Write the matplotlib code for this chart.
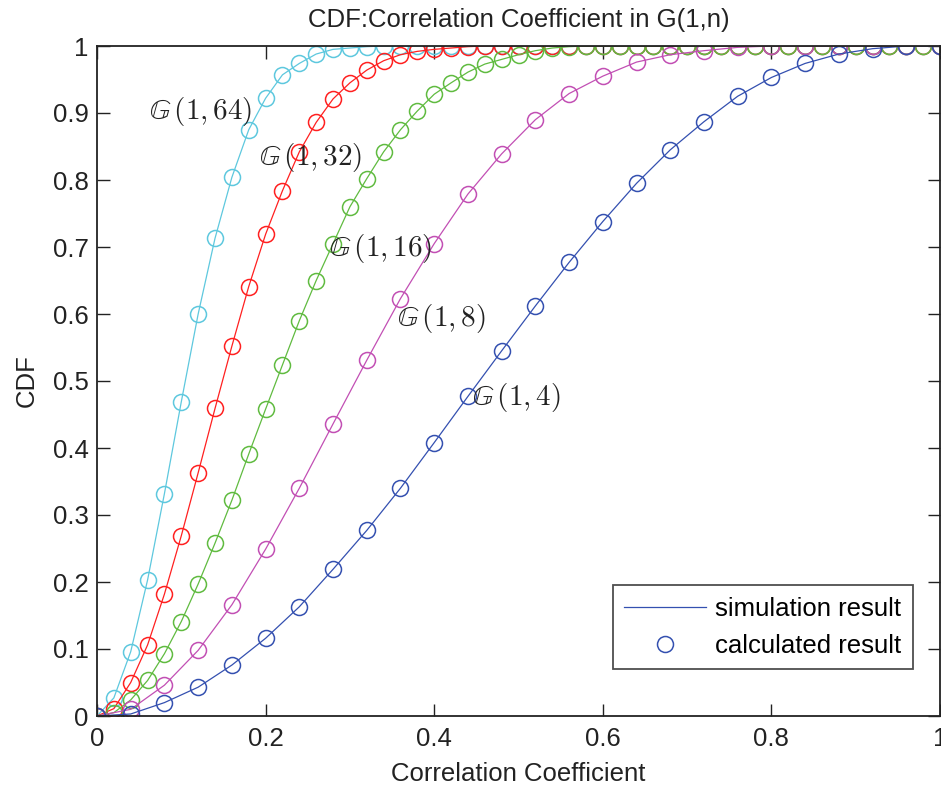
import numpy as np
import matplotlib
matplotlib.use('Agg')
import matplotlib.pyplot as plt

plt.rcParams['font.family'] = ['Liberation Sans', 'DejaVu Sans']
plt.rcParams['mathtext.fontset'] = 'cm'

# x positions of the calculated points
x_fine = np.round(np.arange(0, 1.0001, 0.02), 2)    # n = 64, 32, 16
x_coarse = np.round(np.arange(0, 1.0001, 0.04), 2)  # n = 8, 4

cdf_64 = [0, 0.027, 0.096, 0.203, 0.332, 0.469, 0.600, 0.713, 0.804, 0.875,
          0.922, 0.957, 0.974, 0.988, 0.995, 0.997, 0.999, 1, 1, 1,
          1, 1, 1, 1, 1, 1, 1, 1, 1, 1,
          1, 1, 1, 1, 1, 1, 1, 1, 1, 1,
          1, 1, 1, 1, 1, 1, 1, 1, 1, 1, 1]
cdf_32 = [0, 0.011, 0.050, 0.106, 0.182, 0.269, 0.363, 0.459, 0.552, 0.641,
          0.719, 0.784, 0.842, 0.886, 0.921, 0.945, 0.964, 0.978, 0.987, 0.992,
          0.995, 0.997, 0.999, 1, 1, 1, 1, 1, 1, 1,
          1, 1, 1, 1, 1, 1, 1, 1, 1, 1,
          1, 1, 1, 1, 1, 1, 1, 1, 1, 1, 1]
cdf_16 = [0, 0.005, 0.024, 0.053, 0.093, 0.141, 0.197, 0.258, 0.322, 0.391,
          0.458, 0.524, 0.590, 0.650, 0.705, 0.760, 0.802, 0.842, 0.875, 0.903,
          0.928, 0.945, 0.961, 0.973, 0.980, 0.987, 0.993, 0.997, 0.999, 1,
          1, 1, 1, 1, 1, 1, 1, 1, 1, 1,
          1, 1, 1, 1, 1, 1, 1, 1, 1, 1, 1]
cdf_8 = [0, 0.010, 0.046, 0.098, 0.166, 0.249, 0.340, 0.436, 0.531, 0.623,
         0.705, 0.779, 0.839, 0.890, 0.929, 0.955, 0.976, 0.987, 0.993, 0.998,
         1, 1, 1, 1, 1, 1]
cdf_4 = [0, 0.003, 0.020, 0.043, 0.076, 0.116, 0.163, 0.219, 0.277, 0.340,
         0.408, 0.477, 0.545, 0.612, 0.677, 0.738, 0.795, 0.845, 0.887, 0.925,
         0.953, 0.974, 0.988, 0.996, 1, 1]

labels = [r'$\mathbb{G}\,(1,64)$', r'$\mathbb{G}\,(1,32)$', r'$\mathbb{G}\,(1,16)$',
          r'$\mathbb{G}\,(1,8)$', r'$\mathbb{G}\,(1,4)$']
label_pos = [(0.062, 0.902), (0.192, 0.834), (0.275, 0.698), (0.356, 0.594), (0.445, 0.476)]

series = [(x_fine, cdf_64, '#5ec8de'),
          (x_fine, cdf_32, '#ff2020'),
          (x_fine, cdf_16, '#60bb40'),
          (x_coarse, cdf_8, '#c24fb4'),
          (x_coarse, cdf_4, '#3450b0')]

fig = plt.figure(figsize=(9.41, 7.87), dpi=100)
ax = fig.add_axes([97/941, 1-716/787, 843/941, 670/787])

for xs, ys, c in series:
    ax.plot(xs, ys, '-', color=c, lw=0.9)
    ax.plot(xs, ys, 'o', mfc='none', mec=c, ms=11.5, mew=1.1)

for txt, (tx, ty) in zip(labels, label_pos):
    ax.text(tx, ty, txt, fontsize=21, color='#222222', va='center', ha='left')

# legend handles (blue curve)
h1, = ax.plot([], [], '-', color='#3450b0', lw=0.9, label='simulation result')
h2, = ax.plot([], [], 'o', mfc='none', mec='#3450b0', ms=11.5, mew=1.1, label='calculated result')
leg = ax.legend(handles=[h1, h2], loc='lower right', bbox_to_anchor=(0.968, 0.07),
                fontsize=18.5, frameon=True, fancybox=False, handlelength=3.2,
                handletextpad=0.35, borderpad=0.45, labelspacing=0.5,
                borderaxespad=0)
leg.get_frame().set_edgecolor('#222222')
leg.get_frame().set_linewidth(1.3)

ax.set_xlim(0, 1)
ax.set_ylim(0, 1)
ax.set_xticks([0, 0.2, 0.4, 0.6, 0.8, 1])
ax.set_xticklabels(['0', '0.2', '0.4', '0.6', '0.8', '1'])
ax.set_yticks(np.round(np.arange(0, 1.01, 0.1), 1))
ax.set_yticklabels(['0', '0.1', '0.2', '0.3', '0.4', '0.5', '0.6', '0.7', '0.8', '0.9', '1'])
ax.tick_params(direction='in', length=9, width=1, top=True, right=True,
               labelsize=18.5, colors='#222222')
ax.tick_params(axis='x', pad=8)
ax.tick_params(axis='y', pad=6)
for s in ax.spines.values():
    s.set_linewidth(1.3)
    s.set_color('#222222')

ax.set_title('CDF:Correlation Coefficient in G(1,n)', fontsize=18.5, color='#222222', pad=14)
ax.set_xlabel('Correlation Coefficient', fontsize=18.5, color='#222222', labelpad=8)
ax.set_ylabel('CDF', fontsize=18.5, color='#222222', labelpad=10)

plt.savefig('out.png', dpi=100)
